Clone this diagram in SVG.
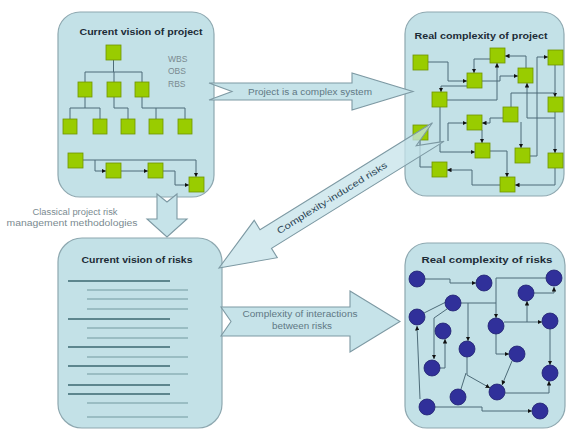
<svg xmlns="http://www.w3.org/2000/svg" width="567" height="430" viewBox="0 0 567 430">
<defs>
<style>
.box{fill:#c3e1e7;stroke:#8ea8b0;stroke-width:1.2}
.arr{fill:#c6e3e9;stroke:#7d99a3;stroke-width:1.1;stroke-linejoin:miter}
.sq{fill:#9c0;stroke:#6f9400;stroke-width:0.8}
.ci{fill:#30309a;stroke:#1f1f70;stroke-width:0.8}
.ln{fill:none;stroke:#4d6b78;stroke-width:1}
.title{font-family:"Liberation Sans",Arial,sans-serif;font-weight:bold;font-size:9.5px;fill:#1c2b36;text-anchor:middle}
.lbl{font-family:"Liberation Sans",Arial,sans-serif;font-size:8.5px;fill:#5f7884;text-anchor:middle}
.gray{font-family:"Liberation Sans",Arial,sans-serif;font-size:8.5px;fill:#7a8a90}
.long{stroke:#3d6872;stroke-width:1.6}
.short{stroke:#8db1b8;stroke-width:1.3}
</style>
<marker id="ah" viewBox="0 0 6 6" refX="6" refY="3" markerWidth="4.5" markerHeight="4.5" markerUnits="userSpaceOnUse" orient="auto">
<path d="M0,0 L6,3 L0,6 z" fill="#111"/>
</marker>
</defs>

<!-- Node: Current vision of project -->
<g id="current-project">
<rect class="box" x="58" y="12" width="156" height="185" rx="22"/>
<text class="title" x="141" y="35" textLength="123" lengthAdjust="spacingAndGlyphs">Current vision of project</text>
<text class="gray" x="168" y="62">WBS</text>
<text class="gray" x="168" y="74">OBS</text>
<text class="gray" x="168" y="87">RBS</text>
<g class="ln">
<path d="M113.5,60 V72 M85,72 H142 M85,72 V82 M114,72 V82 M142,72 V82"/>
<path d="M85,97 V108 M70,108 H100 M70,108 V119 M100,108 V119"/>
<path d="M114,97 V108 H128 V119"/>
<path d="M142,97 V108 H185 M156,108 V119 M185,108 V119"/>
<path d="M83,160 H196 V177" marker-end="url(#ah)"/>
<path d="M95,160 V171 H106" marker-end="url(#ah)"/>
<path d="M121,171 H148" marker-end="url(#ah)"/>
<path d="M163,171 H175 V185 H189" marker-end="url(#ah)"/>
</g>
<rect class="sq" x="106" y="45" width="15" height="15"/>
<rect class="sq" x="78" y="82" width="14" height="15"/>
<rect class="sq" x="107" y="82" width="14" height="15"/>
<rect class="sq" x="135" y="82" width="14" height="15"/>
<rect class="sq" x="63" y="119" width="14" height="15"/>
<rect class="sq" x="93" y="119" width="14" height="15"/>
<rect class="sq" x="121" y="119" width="14" height="15"/>
<rect class="sq" x="149" y="119" width="14" height="15"/>
<rect class="sq" x="178" y="119" width="14" height="15"/>
<rect class="sq" x="68" y="153" width="15" height="15"/>
<rect class="sq" x="106" y="163" width="15" height="15"/>
<rect class="sq" x="148" y="163" width="15" height="15"/>
<rect class="sq" x="189" y="177" width="15" height="15"/>
</g>

<!-- Node: Real complexity of project -->
<g id="real-project">
<rect class="box" x="405" y="12" width="159" height="184" rx="22"/>
<text class="title" x="481" y="39" textLength="133" lengthAdjust="spacingAndGlyphs">Real complexity of project</text>
<g class="ln">
<path d="M428,62 H448 V81 H467" marker-end="url(#ah)"/>
<path d="M490,59 H474 V73" marker-end="url(#ah)"/>
<path d="M526,68 V56 H505" marker-end="url(#ah)"/>
<path d="M447,100 H497 V63" marker-end="url(#ah)"/>
<path d="M482,81 H500 V76 H518" marker-end="url(#ah)"/>
<path d="M530,156 H537 V57 H548" marker-end="url(#ah)"/>
<path d="M555,65 V97" marker-end="url(#ah)"/>
<path d="M467,86 H441 V92" marker-end="url(#ah)"/>
<path d="M440,107 V152 H475" marker-end="url(#ah)"/>
<path d="M448,141 V123 H467" marker-end="url(#ah)"/>
<path d="M503,118 H490 V123 H482" marker-end="url(#ah)"/>
<path d="M482,130 V143" marker-end="url(#ah)"/>
<path d="M511,107 V93 H555"/>
<path d="M521,122 V148" marker-end="url(#ah)"/>
<path d="M555,118 H527 V83" marker-end="url(#ah)"/>
<path d="M555,112 V153" marker-end="url(#ah)"/>
<path d="M490,151 H507 V177" marker-end="url(#ah)"/>
<path d="M555,168 V185 H515" marker-end="url(#ah)"/>
<path d="M500,185 H472 V170 H447" marker-end="url(#ah)"/>
<path d="M420,140 V167 H432"/>
</g>
<rect class="sq" x="413" y="55" width="15" height="15"/>
<rect class="sq" x="490" y="48" width="15" height="15"/>
<rect class="sq" x="548" y="50" width="15" height="15"/>
<rect class="sq" x="467" y="73" width="15" height="15"/>
<rect class="sq" x="518" y="68" width="15" height="15"/>
<rect class="sq" x="432" y="92" width="15" height="15"/>
<rect class="sq" x="548" y="97" width="15" height="15"/>
<rect class="sq" x="503" y="107" width="15" height="15"/>
<rect class="sq" x="467" y="115" width="15" height="15"/>
<rect class="sq" x="413" y="125" width="15" height="15"/>
<rect class="sq" x="475" y="143" width="15" height="15"/>
<rect class="sq" x="515" y="148" width="15" height="15"/>
<rect class="sq" x="548" y="153" width="15" height="15"/>
<rect class="sq" x="432" y="162" width="15" height="15"/>
<rect class="sq" x="500" y="177" width="15" height="15"/>
</g>

<!-- Node: Current vision of risks -->
<g id="current-risks">
<rect class="box" x="58" y="238" width="164" height="190" rx="24"/>
<text class="title" x="137" y="263" textLength="111" lengthAdjust="spacingAndGlyphs">Current vision of risks</text>
<g fill="none">
<path class="long" d="M68,281 H170 M68,319 H170 M68,347 H170 M68,366 H170 M68,385 H170 M68,394 H170"/>
<path class="short" d="M87,290 H188 M87,299 H188 M87,309 H188 M87,328 H188 M87,338 H188 M87,357 H188 M87,374 H188 M87,403 H188 M87,417 H188"/>
</g>
</g>

<!-- Node: Real complexity of risks -->
<g id="real-risks">
<rect class="box" x="405" y="243" width="160" height="185" rx="22"/>
<text class="title" x="487" y="263" textLength="131" lengthAdjust="spacingAndGlyphs">Real complexity of risks</text>
<g class="ln">
<path d="M425,279 H450 V283 H476" marker-end="url(#ah)"/>
<path d="M546,278 H496 V318" marker-end="url(#ah)"/>
<path d="M461,303 H496"/>
<path d="M468,303 V341" marker-end="url(#ah)"/>
<path d="M534,293 H554 V287" marker-end="url(#ah)"/>
<path d="M504,322 H542" marker-end="url(#ah)"/>
<path d="M527,322 V301" marker-end="url(#ah)"/>
<path d="M496,334 V354 H509" marker-end="url(#ah)"/>
<path d="M550,329 V365" marker-end="url(#ah)"/>
<path d="M512,361 L502,385" marker-end="url(#ah)"/>
<path d="M505,393 H549 V381" marker-end="url(#ah)"/>
<path d="M467,357 V375 L490,388" marker-end="url(#ah)"/>
<path d="M466,373 L461,389"/>
<path d="M424,313 L446,302"/>
<path d="M447,309 L434,318 V359" marker-end="url(#ah)"/>
<path d="M440,368 H445 V339" marker-end="url(#ah)"/>
<path d="M420,399 L417,326" marker-end="url(#ah)"/>
<path d="M435,407 H482 V411 H532" marker-end="url(#ah)"/>
</g>
<circle class="ci" cx="417" cy="279" r="8"/>
<circle class="ci" cx="484" cy="283" r="8"/>
<circle class="ci" cx="554" cy="278" r="8"/>
<circle class="ci" cx="526" cy="293" r="8"/>
<circle class="ci" cx="453" cy="303" r="8"/>
<circle class="ci" cx="417" cy="317" r="8"/>
<circle class="ci" cx="496" cy="326" r="8"/>
<circle class="ci" cx="550" cy="321" r="8"/>
<circle class="ci" cx="443" cy="331" r="8"/>
<circle class="ci" cx="467" cy="349" r="8"/>
<circle class="ci" cx="517" cy="354" r="8"/>
<circle class="ci" cx="432" cy="368" r="8"/>
<circle class="ci" cx="550" cy="373" r="8"/>
<circle class="ci" cx="497" cy="392" r="8"/>
<circle class="ci" cx="458" cy="397" r="8"/>
<circle class="ci" cx="427" cy="407" r="8"/>
<circle class="ci" cx="540" cy="411" r="8"/>
</g>

<!-- Connectors (block arrows) -->
<g id="connectors">
<g id="arrow-complex-system">
<polygon class="arr" points="209,83 352,83 352,73 413,91.5 352,110 352,100 209,100 232,91.5"/>
<text class="lbl" x="310" y="94.5" textLength="124" lengthAdjust="spacingAndGlyphs">Project is a complex system</text>
</g>
<g id="arrow-classical">
<polygon class="arr" points="157,194 167,202 177,194 177,219 187,219 167,237 147,219 157,219"/>
<text class="gray" x="75" y="215" text-anchor="middle" textLength="85" lengthAdjust="spacingAndGlyphs">Classical project risk</text>
<text class="gray" x="72" y="226" text-anchor="middle" textLength="131" lengthAdjust="spacingAndGlyphs">management methodologies</text>
</g>
<g id="arrow-induced">
<polygon class="arr" fill-opacity="0.75" points="219,268 277.3,257.7 271.5,248.4 444.1,141.4 416.2,145.7 432.5,122.7 260,229.7 254.2,220.3"/>
<text transform="translate(332,198) rotate(-31.8)" x="0" y="3" font-family="'Liberation Sans',Arial,sans-serif" font-size="9" fill="#2c4656" text-anchor="middle" textLength="128" lengthAdjust="spacingAndGlyphs">Complexity-induced risks</text>
</g>
<g id="arrow-interactions">
<polygon class="arr" points="221,307 350,307 350,291 400,321.5 350,352 350,336 221,336 231,321.5"/>
<text class="lbl" x="300" y="317" textLength="115" lengthAdjust="spacingAndGlyphs">Complexity of interactions</text>
<text class="lbl" x="302" y="329" textLength="60" lengthAdjust="spacingAndGlyphs">between risks</text>
</g>
</g>
</svg>
